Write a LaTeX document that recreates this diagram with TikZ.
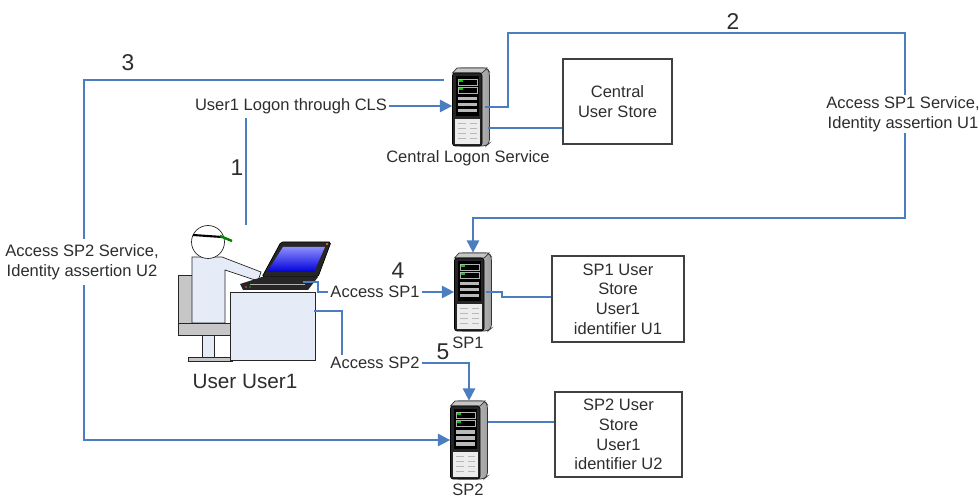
\documentclass[tikz,border=0pt]{standalone}
\usepackage{fontspec}
\setmainfont{Liberation Sans}
\usetikzlibrary{calc}
\usetikzlibrary{arrows.meta}

\definecolor{linkblue}{RGB}{74,126,193}
\definecolor{userfill}{RGB}{229,235,247}
\definecolor{textgray}{RGB}{45,45,45}

\tikzset{
  link/.style={linkblue,line width=1.1pt},
  linkarrow/.style={link,-{Triangle[length=7pt,width=7pt]}},
  lbl/.style={text=textgray,font=\fontsize{9.4}{11.2}\selectfont,align=center,inner sep=1pt},
  numlbl/.style={text=textgray,font=\fontsize{13}{15}\selectfont,inner sep=0pt},
  store/.style={lbl,draw=black!75,line width=0.8pt,inner sep=0pt},
  server/.style={minimum width=0.74cm,minimum height=1.56cm,inner sep=0pt},
}

% rack server drawn around a node centre
\newcommand{\rackserver}[1]{
\begin{scope}[shift={(#1.center)}]
\shade[left color=gray!25,right color=gray!75,draw=black!80,rounded corners=2]
  (-14,-39) -- (16,-39) -- (18.5,-35) -- (18.5,36) -- (15,39) -- (-14,39) -- cycle;
\fill[gray!45,draw=black!80] (-18.5,-34) -- (-14,-39) -- (16,-39) -- (11,-34) -- cycle;
\draw[black,fill=black!85,rounded corners=1.5] (-18.5,-34) rectangle (11,39);
\fill[black] (-15,-31) rectangle (8,9);
\draw[gray!60] (-13,-28) rectangle (6,-22);
\draw[gray!60] (-13,-20) rectangle (6,-14);
\fill[green!80!black] (-12,-27) rectangle (-8,-25);
\fill[green!80!black] (-12,-19) rectangle (-8,-17);
\foreach \yy in {-10,-4,2} {
  \fill[gray!55] (-13,\yy) rectangle (6,\yy+3.5);
}
\fill[gray!15] (-16,12) rectangle (9,37);
\foreach \yy in {16,21,26,31} {
  \draw[gray!55,line width=0.4pt] (-13,\yy) -- (-5,\yy) (-1,\yy) -- (6,\yy);
}
\end{scope}
}

\begin{document}
\begin{tikzpicture}[x=0.02cm,y=-0.02cm]
\useasboundingbox (0,0) rectangle (979,499);

% servers and user stores
\node[server] (cls) at (471,107) {};
\node[server] (sp1) at (473,292) {};
\node[server] (sp2) at (469,440) {};
\rackserver{cls}
\rackserver{sp1}
\rackserver{sp2}
\node[lbl] (clslbl) at (468,158) {Central Logon Service};
\node[lbl] (sp1lbl) at (468,343) {SP1};
\node[lbl] (sp2lbl) at (468,490) {SP2};

\node[store,minimum width=2.18cm,minimum height=1.7cm] (cus) at (617.5,101.5) {Central\\User Store};
\node[store,minimum width=2.64cm,minimum height=1.72cm] (sp1store) at (618,299) {SP1 User\\Store\\User1\\identifier U1};
\node[store,minimum width=2.54cm,minimum height=1.7cm] (sp2store) at (618.5,434.5) {SP2 User\\Store\\User1\\identifier U2};

% user at the desk
\fill[gray!45,draw=black!85] (178,275) rectangle (192,323);
\fill[gray!45,draw=black!85] (178,323) rectangle (232,335);
\fill[userfill,draw=black!85] (202,335) rectangle (214,357);
\fill[gray!45,draw=black!85] (188,357) rectangle (232,361);
\draw[black!85,fill=userfill] (192,257) -- (222,257) -- (261,272) -- (258,281) -- (225,270) -- (225,323) -- (192,323) -- cycle;
\draw[black!85,fill=white] (208,242) circle (16.5);
\draw[black,line width=1.2pt] (193,235) -- (222,237);
\draw[green!50!black,line width=1.4pt] (220,236) -- (232,241);
\draw[black!85,fill=userfill] (230,292) rectangle (315,360);
% laptop
\draw[black,fill=black!85,rounded corners=1] (262,277) -- (281,242) -- (331,242) -- (318,277) -- cycle;
\shade[top color=blue!45,bottom color=blue!85!black] (267,272) -- (283,247) -- (325,247) -- (314,272) -- cycle;
\fill[orange] (327,244) circle (1.2);
\fill[black!85] (240,284) -- (262,277) -- (318,277) -- (308,290) -- (243,290) -- cycle;
\draw[gray!60,line width=0.4pt] (250,284) -- (305,284);
\fill[red!70] (246,287) circle (0.8);
\fill[green!70!black] (250,287) circle (0.8);
\node[lbl,font=\fontsize{11.8}{14}\selectfont] (user) at (245,381) {User User1};

% logon through CLS
\node[lbl] (logonlbl) at (291,106) {User1 Logon through CLS};
\draw[linkarrow] (logonlbl.east) -- (logonlbl.east -| cls.west);
\coordinate (u1top) at (246,118);
\coordinate (u1bot) at (246,225);
\draw[link] (u1top) -- (u1bot);
\node[numlbl] (n1) at (237,168) {1};

% CLS to its user store
\coordinate (clsport) at ($(cls.center)+(17,21)$);
\draw[link] (clsport) -- (clsport -| cus.west);

% assertion for SP1
\coordinate (clsout) at ($(cls.center)+(14,0)$);
\coordinate (c2a) at (508,33);
\coordinate (c2b) at (905,218);
\draw[linkarrow] (clsout) -| (c2a) -| (c2b) -| (sp1.north);
\node[numlbl] (n2) at (733,22) {2};
\node[lbl,fill=white] (as1) at (903,114) {Access SP1 Service,\\Identity assertion U1};

% assertion for SP2
\coordinate (c3a) at ($(cls.west)+(-8,-27)$);
\coordinate (c3b) at (84,440);
\draw[linkarrow] (c3a) -| (c3b) -- (sp2.west);
\node[numlbl] (n3) at (128,63) {3};
\node[lbl,fill=white,inner sep=3pt] (as2) at (82,262) {Access SP2 Service,\\Identity assertion U2};

% access from the laptop
\node[lbl] (acc1) at (375,292) {Access SP1};
\node[lbl] (acc2) at (375,363) {Access SP2};
\coordinate (lapport) at (303,282);
\coordinate (lapbend) at (318,292);
\draw[link] (lapport) -| (lapbend) -- (acc1.west);
\draw[linkarrow] (acc1.east) -- (sp1.west);
\node[numlbl] (n4) at (398,271) {4};
\coordinate (deskport) at (314,311);
\coordinate (deskbend) at (342,311);
\draw[link] (deskport) -- (deskbend) -- (deskbend |- acc2.north);
\draw[linkarrow] (acc2.east) -| (sp2.north);
\node[numlbl] (n5) at (443,352) {5};

% SP servers to their stores
\coordinate (sp1port) at ($(sp1.center)+(13,0)$);
\coordinate (sp1bend) at (502,297);
\draw[link] (sp1port) -| (sp1bend) -- (sp1bend -| sp1store.west);
\coordinate (sp2port) at ($(sp2.center)+(19,-18)$);
\draw[link] (sp2port) -- (sp2port -| sp2store.west);
\end{tikzpicture}
\end{document}
